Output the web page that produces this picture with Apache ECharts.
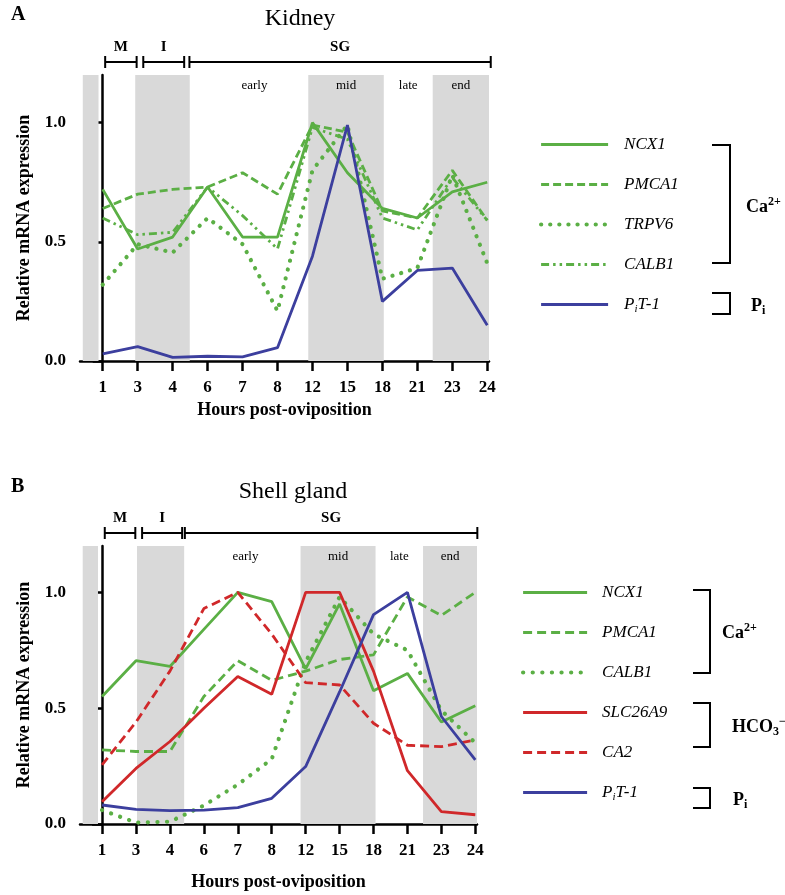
<!DOCTYPE html>
<html>
<head>
<meta charset="utf-8">
<script src="https://cdn.jsdelivr.net/npm/echarts@6/dist/echarts.min.js"></script>
<style>
  html, body { margin: 0; padding: 0; background: #fff; }
  #main { width: 785px; height: 895px; }
</style>
</head>
<body>
<div id="main"></div>
<script>
'use strict';

// categories (hours post-oviposition)
var hours = ['1', '3', '4', '6', '7', '8', '12', '15', '18', '21', '23', '24'];

// A - kidney
var ncx1K   = [0.72, 0.47, 0.52, 0.73, 0.52, 0.52, 1.00, 0.79, 0.64, 0.60, 0.71, 0.75];
var pmca1K  = [0.64, 0.70, 0.72, 0.73, 0.79, 0.70, 0.99, 0.96, 0.63, 0.60, 0.80, 0.59];
var trpv6K  = [0.32, 0.49, 0.455, 0.60, 0.49, 0.21, 0.80, 0.99, 0.345, 0.39, 0.78, 0.41];
var calb1K  = [0.60, 0.53, 0.54, 0.73, 0.61, 0.47, 0.98, 0.93, 0.60, 0.55, 0.77, 0.59];
var pit1K   = [0.03, 0.06, 0.015, 0.02, 0.017, 0.056, 0.44, 0.99, 0.25, 0.38, 0.39, 0.15];

// B - shell gland
var ncx1S    = [0.55, 0.705, 0.68, 0.84, 1.00, 0.96, 0.67, 0.95, 0.575, 0.65, 0.44, 0.51];
var pmca1S   = [0.32, 0.313, 0.313, 0.55, 0.705, 0.62, 0.66, 0.71, 0.73, 0.98, 0.90, 1.00];
var calb1S   = [0.06, 0.006, 0.01, 0.08, 0.17, 0.28, 0.70, 0.98, 0.82, 0.75, 0.49, 0.35];
var slc26a9S = [0.096, 0.24, 0.356, 0.50, 0.637, 0.56, 1.00, 1.00, 0.66, 0.23, 0.053, 0.04];
var ca2S     = [0.255, 0.44, 0.66, 0.93, 1.00, 0.82, 0.61, 0.60, 0.435, 0.34, 0.334, 0.363];
var pit1S    = [0.082, 0.063, 0.058, 0.06, 0.071, 0.111, 0.248, 0.57, 0.904, 1.00, 0.464, 0.277];

// phase bands, in category-index units
var bandsA = [[-0.57, -0.12], [0.93, 2.49], [5.88, 8.04], [9.44, 11.05]];
var bandsB = [[-0.57, -0.12], [1.03, 2.42], [5.85, 8.06], [9.46, 11.05]];
var phaseLabels = ['early', 'mid', 'late', 'end'];

var GREEN = '#5BAF45', RED = '#D0282A', BLUE = '#3C3F9E', GREY = '#D9D9D9';
var SERIF = '"Liberation Serif", "DejaVu Serif", serif';

var myChart = echarts.init(document.getElementById('main'));

function mk(name, vals, grid, color, type, width, cap) {
    return {
        name: name,
        type: 'line',
        xAxisIndex: grid,
        yAxisIndex: grid,
        data: vals.map(function (v, i) { return [i, v]; }),
        symbol: 'none',
        silent: true,
        z: 3,
        lineStyle: { color: color, width: width || 2.8, type: type || 'solid', cap: cap || 'butt' },
        itemStyle: { color: color }
    };
}

function bandSeries(grid, bands, earlyFrom) {
    var areas = [];
    var label = { show: true, position: 'insideTop', distance: 4, color: '#000', fontFamily: SERIF, fontSize: 13 };
    areas.push([{ xAxis: bands[0][0] }, { xAxis: bands[0][1] }]);
    areas.push([{ xAxis: bands[1][0] }, { xAxis: bands[1][1] }]);
    // early (white gap)
    areas.push([{ xAxis: earlyFrom, name: phaseLabels[0], itemStyle: { color: 'rgba(0,0,0,0)' } }, { xAxis: bands[2][0] }]);
    areas.push([{ xAxis: bands[2][0], name: phaseLabels[1] }, { xAxis: bands[2][1] }]);
    areas.push([{ xAxis: bands[2][1], name: phaseLabels[2], itemStyle: { color: 'rgba(0,0,0,0)' } }, { xAxis: bands[3][0] }]);
    areas.push([{ xAxis: bands[3][0], name: phaseLabels[3] }, { xAxis: bands[3][1] }]);
    return {
        name: 'bands' + grid,
        type: 'line',
        xAxisIndex: grid,
        yAxisIndex: grid,
        data: [],
        z: 1,
        silent: true,
        markArea: {
            silent: true,
            itemStyle: { color: GREY },
            label: label,
            data: areas
        }
    };
}

function xAxisFor(grid, gap) {
    return {
        type: 'value',
        gridIndex: grid,
        min: -0.65,
        max: 11.05,
        splitLine: { show: false },
        axisLine: { onZero: false, lineStyle: { color: '#000', width: 2.5 } },
        axisTick: { customValues: hours.map(function (h, i) { return i; }), length: 10, lineStyle: { color: '#000', width: 2.5 } },
        axisLabel: {
            customValues: hours.map(function (h, i) { return i; }),
            formatter: function (v) { return hours[Math.round(v)]; },
            color: '#000', fontFamily: SERIF, fontWeight: 'bold', fontSize: 17, margin: 18
        },
        name: 'Hours post-oviposition',
        nameLocation: 'middle',
        nameGap: gap,
        nameTextStyle: { color: '#000', fontFamily: SERIF, fontWeight: 'bold', fontSize: 18 }
    };
}

function yAxisFor(grid) {
    return {
        type: 'value',
        gridIndex: grid,
        min: 0,
        max: 1.2,
        splitLine: { show: false },
        axisLine: { show: true, lineStyle: { color: '#000', width: 2.5 } },
        axisTick: { customValues: [0, 0.5, 1], length: 10, lineStyle: { color: '#000', width: 2.5 } },
        axisLabel: {
            customValues: [0, 0.5, 1],
            formatter: function (v) { return v.toFixed(1); },
            color: '#000', fontFamily: SERIF, fontWeight: 'bold', fontSize: 17, margin: 14
        },
        name: 'Relative mRNA expression',
        nameLocation: 'middle',
        nameGap: 47,
        nameTextStyle: { color: '#000', fontFamily: SERIF, fontWeight: 'bold', fontSize: 18 }
    };
}

var legendRich = {
    i: { fontFamily: SERIF, fontStyle: 'italic', fontSize: 17, color: '#000', lineHeight: 20 },
    s: { fontFamily: SERIF, fontStyle: 'italic', fontSize: 11, color: '#000', lineHeight: 12, verticalAlign: 'bottom' }
};
function legendName(name) {
    var n = name.replace(/^[AB]:/, '');
    if (n === 'PiT-1') return '{i|P}{s|i}{i|T-1}';
    return '{i|' + n + '}';
}

var option = {
    animation: false,
    backgroundColor: '#fff',
    title: [
        { text: 'Kidney', left: 295, top: 2, textAlign: 'center', textStyle: { fontFamily: SERIF, fontWeight: 'normal', fontSize: 24, color: '#000' } },
        { text: 'Shell gland', left: 288, top: 475, textAlign: 'center', textStyle: { fontFamily: SERIF, fontWeight: 'normal', fontSize: 24, color: '#000' } },
        { text: 'A', left: 6, top: 0, textStyle: { fontFamily: SERIF, fontWeight: 'bold', fontSize: 20, color: '#000' } },
        { text: 'B', left: 6, top: 472, textStyle: { fontFamily: SERIF, fontWeight: 'bold', fontSize: 20, color: '#000' } }
    ],
    grid: [
        { left: 80, top: 75, width: 409, height: 286 },
        { left: 80, top: 546, width: 397, height: 278 }
    ],
    xAxis: [xAxisFor(0, 40), xAxisFor(1, 49)],
    yAxis: [yAxisFor(0), yAxisFor(1)],
    legend: [
        {
            orient: 'vertical', left: 539, top: 136, padding: 0, itemWidth: 67, itemHeight: 14, itemGap: 23,
            selectedMode: false, formatter: legendName,
            itemStyle: { opacity: 0, borderWidth: 0 },
            lineStyle: { width: 'inherit' },
            textStyle: { padding: [0, 0, 0, 11], rich: legendRich },
            data: ['A:NCX1', 'A:PMCA1', 'A:TRPV6', 'A:CALB1', 'A:PiT-1']
        },
        {
            orient: 'vertical', left: 521, top: 584, padding: 0, itemWidth: 64, itemHeight: 14, itemGap: 23,
            selectedMode: false, formatter: legendName,
            itemStyle: { opacity: 0, borderWidth: 0 },
            lineStyle: { width: 'inherit' },
            textStyle: { padding: [0, 0, 0, 10], rich: legendRich },
            data: ['B:NCX1', 'B:PMCA1', 'B:CALB1', 'B:SLC26A9', 'B:CA2', 'B:PiT-1']
        }
    ],
    series: [
        bandSeries(0, bandsA, 2.8),
        mk('A:NCX1', ncx1K, 0, GREEN),
        mk('A:PMCA1', pmca1K, 0, GREEN, [8, 4]),
        mk('A:TRPV6', trpv6K, 0, GREEN, [0.1, 9], 4.2, 'round'),
        mk('A:CALB1', calb1K, 0, GREEN, [8, 4, 2.5, 4, 2.5, 4]),
        mk('A:PiT-1', pit1K, 0, BLUE),
        bandSeries(1, bandsB, 2.6),
        mk('B:NCX1', ncx1S, 1, GREEN),
        mk('B:PMCA1', pmca1S, 1, GREEN, [9, 5]),
        mk('B:CALB1', calb1S, 1, GREEN, [0.1, 9.5], 4.2, 'round'),
        mk('B:SLC26A9', slc26a9S, 1, RED),
        mk('B:CA2', ca2S, 1, RED, [9, 5]),
        mk('B:PiT-1', pit1S, 1, BLUE)
    ]
};
myChart.setOption(option);

// phase brackets above each panel (M / I / SG)
var phasesA = [['M', 0.07, 0.97], ['I', 1.16, 2.33], ['SG', 2.48, 11.1]];
var phasesB = [['M', 0.08, 0.98], ['I', 1.18, 2.36], ['SG', 2.44, 11.06]];

var g = [];
function brackets(grid, phases) {
    var top = myChart.convertToPixel({ gridIndex: grid }, [0, 1.2])[1];
    var by = top - 13, ly = top - 28;
    phases.forEach(function (p) {
        var x0 = myChart.convertToPixel({ gridIndex: grid }, [p[1], 0])[0];
        var x1 = myChart.convertToPixel({ gridIndex: grid }, [p[2], 0])[0];
        var ls = { stroke: '#000', lineWidth: 2 };
        g.push({ type: 'line', shape: { x1: x0, y1: by, x2: x1, y2: by }, style: ls });
        g.push({ type: 'line', shape: { x1: x0, y1: by - 6, x2: x0, y2: by + 6 }, style: ls });
        g.push({ type: 'line', shape: { x1: x1, y1: by - 6, x2: x1, y2: by + 6 }, style: ls });
        g.push({ type: 'text', x: (x0 + x1) / 2, y: ly, style: {
            text: p[0], fill: '#000', font: 'bold 15px ' + SERIF, align: 'center', verticalAlign: 'middle'
        } });
    });
}
brackets(0, phasesA);
brackets(1, phasesB);

// legend group brackets
function groupBracket(x0, x1, y0, y1) {
    var ls = { stroke: '#000', lineWidth: 2, fill: null };
    g.push({ type: 'polyline', shape: { points: [[x0, y0], [x1, y0], [x1, y1], [x0, y1]] }, style: ls });
}
var gRich = {
    b: { fontFamily: SERIF, fontWeight: 'bold', fontSize: 18, lineHeight: 22, fill: '#000' },
    sup: { fontFamily: SERIF, fontWeight: 'bold', fontSize: 12, lineHeight: 12, verticalAlign: 'top', fill: '#000' },
    sub: { fontFamily: SERIF, fontWeight: 'bold', fontSize: 12, lineHeight: 12, verticalAlign: 'bottom', fill: '#000' }
};
function groupText(x, y, txt) {
    g.push({ type: 'text', x: x, y: y, style: { text: txt, rich: gRich, verticalAlign: 'middle', align: 'left' } });
}
groupBracket(712, 730, 145, 263);
groupText(746, 207, '{b|Ca}{sup|2+}');
groupBracket(712, 730, 293, 314);
groupText(751, 306, '{b|P}{sub|i}');

groupBracket(693, 710, 590, 673);
groupText(722, 633, '{b|Ca}{sup|2+}');
groupBracket(693, 710, 703, 747);
groupText(732, 727, '{b|HCO}{sub|3}{sup|−}');
groupBracket(693, 710, 788, 808);
groupText(733, 800, '{b|P}{sub|i}');

myChart.setOption({ graphic: g });
</script>
</body>
</html>
